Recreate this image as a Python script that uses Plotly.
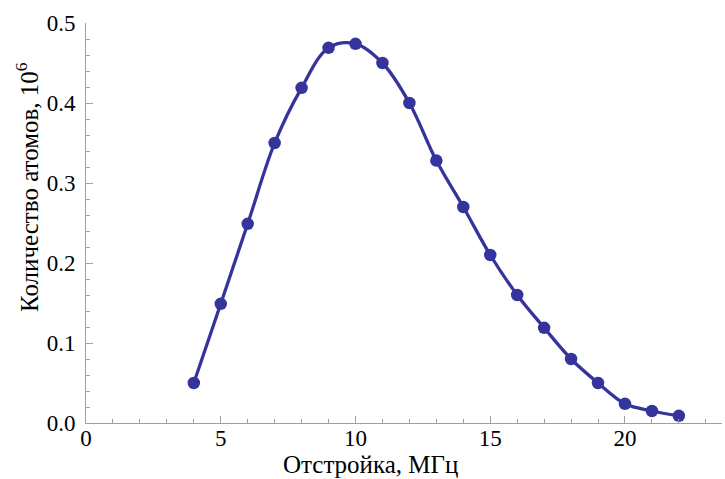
import plotly.graph_objects as go

detuning = [4, 5, 6, 7, 8, 9, 10, 11, 12, 13, 14, 15, 16, 17, 18, 19, 20, 21, 22]
atoms = [0.05, 0.149, 0.249, 0.35, 0.419, 0.469, 0.474, 0.45, 0.40, 0.328, 0.27,
         0.21, 0.16, 0.119, 0.08, 0.05, 0.024, 0.015, 0.009]

x_ticks = [0, 5, 10, 15, 20]
y_ticks = [0.0, 0.1, 0.2, 0.3, 0.4, 0.5]
y_tick_labels = ["0.0", "0.1", "0.2", "0.3", "0.4", "0.5"]

color = "#35349c"
axis_color = "#a0a0a0"
font = "Liberation Serif"

ML, MR, MT, MB = 86, 3, 23, 56
W, H = 725, 479
pw = W - ML - MR
ph = H - MT - MB


def px_to_paper(px, py):
    return (px - ML) / pw, (H - MB - py) / ph


fig = go.Figure()
fig.add_trace(go.Scatter(
    x=detuning, y=atoms, mode="lines+markers",
    line=dict(color=color, width=3.3, shape="spline", smoothing=1.0),
    marker=dict(color=color, size=12.5),
    showlegend=False,
))

xt_x, xt_y = px_to_paper(370, 464)
yt_x, yt_y = px_to_paper(27, 187)

tick_font = dict(family=font, size=23, color="black")

fig.update_layout(
    width=W, height=H,
    margin=dict(l=ML, r=MR, t=MT, b=MB),
    paper_bgcolor="white", plot_bgcolor="white",
    font=dict(family=font, size=23, color="black"),
    xaxis=dict(
        range=[0, 23.6], tickvals=x_ticks, ticktext=[str(v) for v in x_ticks],
        showgrid=False, zeroline=False, showline=True, linecolor=axis_color, linewidth=1,
        ticks="inside", ticklen=7, tickcolor=axis_color, tickwidth=1,
        minor=dict(dtick=1, tick0=0, ticks="inside", ticklen=4, tickcolor=axis_color, showgrid=False),
        tickfont=tick_font,
        ticklabelstandoff=-6,
    ),
    yaxis=dict(
        range=[0, 0.5], tickvals=y_ticks, ticktext=y_tick_labels,
        showgrid=False, zeroline=False, showline=True, linecolor=axis_color, linewidth=1,
        ticks="inside", ticklen=7, tickcolor=axis_color, tickwidth=1,
        minor=dict(dtick=0.02, tick0=0, ticks="inside", ticklen=4, tickcolor=axis_color, showgrid=False),
        tickfont=tick_font,
        ticklabelstandoff=5,
    ),
    annotations=[
        dict(text="Отстройка, МГц", x=xt_x, y=xt_y, xref="paper", yref="paper",
             xanchor="center", yanchor="middle",
             showarrow=False, font=dict(family=font, size=25, color="black")),
        dict(text="Количество атомов, 10<sup>6</sup>", x=yt_x, y=yt_y, xref="paper", yref="paper",
             xanchor="center", yanchor="middle", textangle=-90,
             showarrow=False, font=dict(family=font, size=25, color="black")),
    ],
)

fig.write_html("out.html")
